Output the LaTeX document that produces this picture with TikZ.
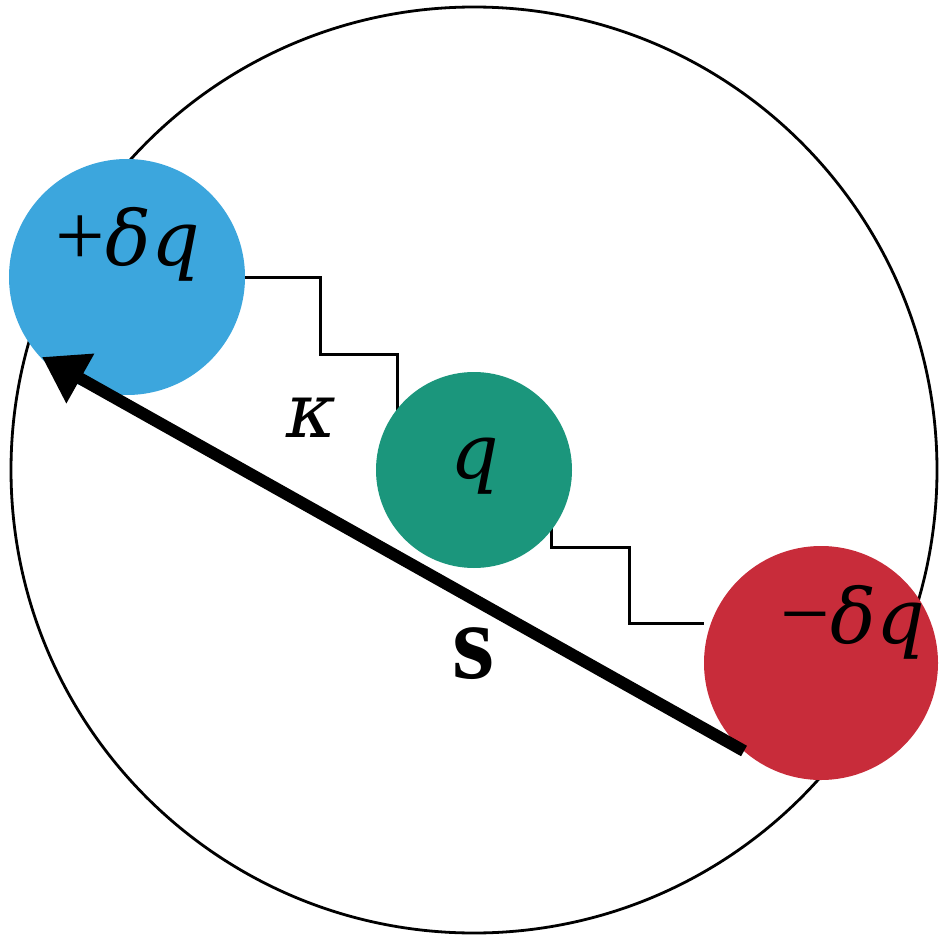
\documentclass[tikz,border=0pt]{standalone}
\usepackage{fontspec}
\setmainfont{Liberation Serif}
\newfontfamily\dvitfont{DejaVu Serif}[UprightFont={* Italic}]
\usetikzlibrary{arrows.meta}
\definecolor{cblue}{RGB}{60,166,221}
\definecolor{cgreen}{RGB}{27,150,124}
\definecolor{cred}{RGB}{200,44,58}
\newcommand{\vm}[1]{{\fontsize{76}{90}\selectfont\dvitfont #1}}
\tikzset{
  ball/.style={circle, inner sep=0pt, draw=none},
  spring/.style={line width=3pt, line join=miter},
  lbl/.style={anchor=base, inner sep=0pt, font=\fontsize{88}{100}\selectfont}
}
\begin{document}
\begin{tikzpicture}[x=1pt,y=-1pt]
\useasboundingbox (0,0) rectangle (940,939);
% outer circle
\node[circle, draw, line width=2.8pt, minimum size=926pt, inner sep=0pt] (outer) at (474,470) {};
% spring coordinates
\coordinate (s1a) at (320,277);
\coordinate (s1b) at (320,354);
\coordinate (s1c) at (397,354);
\coordinate (s1d) at (397,430);
\coordinate (s2a) at (551,520);
\coordinate (s2b) at (551,547);
\coordinate (s2c) at (629,547);
\coordinate (s2d) at (629,623);
% balls
\node[ball, fill=cblue, minimum size=236pt] (plus) at (127,277) {};
\node[ball, fill=cred, minimum size=234pt] (minus) at (821,663) {};
% springs
\draw[spring] (plus.east) -- (s1a) -- (s1b) -- (s1c) -- (s1d);
\draw[spring] (s2a) -- (s2b) -- (s2c) -- (s2d) -- (s2d -| minus.west);
\node[ball, fill=cgreen, minimum size=196pt] (mid) at (474,470) {};
% labels
\node[lbl] (lplus) at (128,265) {+\vm{δq}};
\node[lbl] (lq) at (475,478) {\vm{q}};
\node[lbl] (lminus) at (853,643) {−\vm{δq}};
\node[lbl] (lk) at (311,437) {\vm{κ}};
\node[lbl, font=\fontsize{108}{120}\selectfont\bfseries] (ls) at (474,678) {s};
% arrow
\coordinate (tail) at (744,751);
\coordinate (tip) at (42,357);
\draw[line width=12pt, -{Triangle[length=44pt,width=54pt]}] (tail) -- (tip);
\end{tikzpicture}
\end{document}
